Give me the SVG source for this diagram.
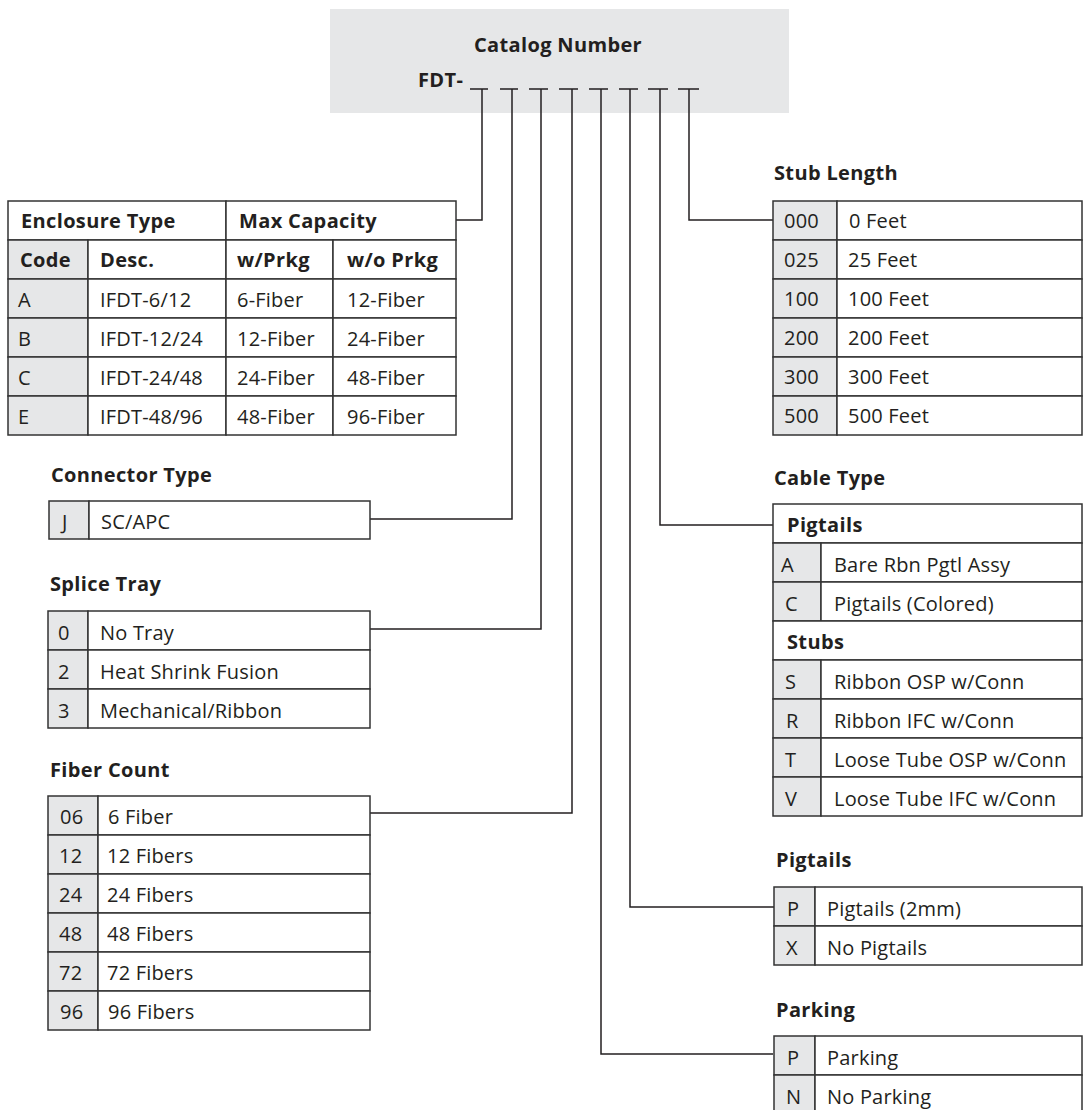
<svg xmlns="http://www.w3.org/2000/svg" width="1083" height="1110" viewBox="0 0 1083 1110">
<style>
.t{font-family:"Open Sans","Noto Sans","Liberation Sans",sans-serif;font-size:20px;letter-spacing:0.2px;fill:#231f20}
.b{font-weight:bold;letter-spacing:0.35px}
.c{fill:#fff;stroke:#333;stroke-width:1.5}
.s{fill:#e6e7e8;stroke:#333;stroke-width:1.5}
.ln{fill:none;stroke:#231f20;stroke-width:1.5}
</style>
<rect width="1083" height="1110" fill="#fff"/>
<g id="catalog">
<rect x="330" y="9" width="459" height="104" fill="#e6e7e8"/>
<text class="t b" x="558" y="52" text-anchor="middle">Catalog Number</text>
<text class="t b" x="418" y="87">FDT-</text>
<path class="ln" d="M470,89H488M500,89H518M529,89H548M559,89H578M589,89H608M619,89H638M648,89H668M678,89H699"/>
</g>
<g id="connectors">
<path class="ln" d="M482,89V220H456"/>
<path class="ln" d="M512,89V519H370"/>
<path class="ln" d="M541,89V629H370"/>
<path class="ln" d="M572,89V813H370"/>
<path class="ln" d="M601,89V1054H773"/>
<path class="ln" d="M630,89V907H774"/>
<path class="ln" d="M660,89V525H773"/>
<path class="ln" d="M689,89V220H773"/>
</g>
<g id="enclosure">
<rect class="c" x="8" y="201" width="218" height="39"/>
<rect class="c" x="226" y="201" width="230" height="39"/>
<rect class="s" x="8" y="240" width="80" height="39"/><rect class="c" x="88" y="240" width="138" height="39"/><rect class="c" x="226" y="240" width="107" height="39"/><rect class="c" x="333" y="240" width="123" height="39"/>
<rect class="s" x="8" y="279" width="80" height="39"/><rect class="c" x="88" y="279" width="138" height="39"/><rect class="c" x="226" y="279" width="107" height="39"/><rect class="c" x="333" y="279" width="123" height="39"/>
<rect class="s" x="8" y="318" width="80" height="39"/><rect class="c" x="88" y="318" width="138" height="39"/><rect class="c" x="226" y="318" width="107" height="39"/><rect class="c" x="333" y="318" width="123" height="39"/>
<rect class="s" x="8" y="357" width="80" height="39"/><rect class="c" x="88" y="357" width="138" height="39"/><rect class="c" x="226" y="357" width="107" height="39"/><rect class="c" x="333" y="357" width="123" height="39"/>
<rect class="s" x="8" y="396" width="80" height="39"/><rect class="c" x="88" y="396" width="138" height="39"/><rect class="c" x="226" y="396" width="107" height="39"/><rect class="c" x="333" y="396" width="123" height="39"/>
<text class="t b" x="21" y="228">Enclosure Type</text><text class="t b" x="239" y="228">Max Capacity</text>
<text class="t b" x="20" y="267">Code</text><text class="t b" x="100" y="267">Desc.</text><text class="t b" x="237" y="267">w/Prkg</text><text class="t b" x="347" y="267">w/o Prkg</text>
<text class="t" x="18" y="307">A</text><text class="t" x="100" y="307">IFDT-6/12</text><text class="t" x="237" y="307">6-Fiber</text><text class="t" x="347" y="307">12-Fiber</text>
<text class="t" x="18" y="346">B</text><text class="t" x="100" y="346">IFDT-12/24</text><text class="t" x="237" y="346">12-Fiber</text><text class="t" x="347" y="346">24-Fiber</text>
<text class="t" x="18" y="385">C</text><text class="t" x="100" y="385">IFDT-24/48</text><text class="t" x="237" y="385">24-Fiber</text><text class="t" x="347" y="385">48-Fiber</text>
<text class="t" x="18" y="424">E</text><text class="t" x="100" y="424">IFDT-48/96</text><text class="t" x="237" y="424">48-Fiber</text><text class="t" x="347" y="424">96-Fiber</text>
</g>
<g id="connector-type">
<text class="t b" x="51" y="482">Connector Type</text>
<rect class="s" x="49" y="501" width="40" height="38"/><rect class="c" x="89" y="501" width="281" height="38"/>
<text class="t" x="62" y="529">J</text><text class="t" x="101" y="529">SC/APC</text>
</g>
<g id="splice-tray">
<text class="t b" x="50" y="591">Splice Tray</text>
<rect class="s" x="48" y="611" width="40" height="39"/><rect class="c" x="88" y="611" width="282" height="39"/>
<rect class="s" x="48" y="650" width="40" height="39"/><rect class="c" x="88" y="650" width="282" height="39"/>
<rect class="s" x="48" y="689" width="40" height="39"/><rect class="c" x="88" y="689" width="282" height="39"/>
<text class="t" x="58" y="640">0</text><text class="t" x="100" y="640">No Tray</text>
<text class="t" x="58" y="679">2</text><text class="t" x="100" y="679">Heat Shrink Fusion</text>
<text class="t" x="58" y="718">3</text><text class="t" x="100" y="718">Mechanical/Ribbon</text>
</g>
<g id="fiber-count">
<text class="t b" x="50" y="777">Fiber Count</text>
<rect class="s" x="48" y="796" width="50" height="39"/><rect class="c" x="98" y="796" width="272" height="39"/>
<rect class="s" x="48" y="835" width="50" height="39"/><rect class="c" x="98" y="835" width="272" height="39"/>
<rect class="s" x="48" y="874" width="50" height="39"/><rect class="c" x="98" y="874" width="272" height="39"/>
<rect class="s" x="48" y="913" width="50" height="39"/><rect class="c" x="98" y="913" width="272" height="39"/>
<rect class="s" x="48" y="952" width="50" height="39"/><rect class="c" x="98" y="952" width="272" height="39"/>
<rect class="s" x="48" y="991" width="50" height="39"/><rect class="c" x="98" y="991" width="272" height="39"/>
<text class="t" x="60" y="824">06</text><text class="t" x="108" y="824">6 Fiber</text>
<text class="t" x="59" y="863">12</text><text class="t" x="107" y="863">12 Fibers</text>
<text class="t" x="59" y="902">24</text><text class="t" x="107" y="902">24 Fibers</text>
<text class="t" x="59" y="941">48</text><text class="t" x="107" y="941">48 Fibers</text>
<text class="t" x="59" y="980">72</text><text class="t" x="107" y="980">72 Fibers</text>
<text class="t" x="60" y="1019">96</text><text class="t" x="108" y="1019">96 Fibers</text>
</g>
<g id="stub-length">
<text class="t b" x="774" y="180">Stub Length</text>
<rect class="s" x="773" y="201" width="64" height="39"/><rect class="c" x="837" y="201" width="245" height="39"/>
<rect class="s" x="773" y="240" width="64" height="39"/><rect class="c" x="837" y="240" width="245" height="39"/>
<rect class="s" x="773" y="279" width="64" height="39"/><rect class="c" x="837" y="279" width="245" height="39"/>
<rect class="s" x="773" y="318" width="64" height="39"/><rect class="c" x="837" y="318" width="245" height="39"/>
<rect class="s" x="773" y="357" width="64" height="39"/><rect class="c" x="837" y="357" width="245" height="39"/>
<rect class="s" x="773" y="396" width="64" height="39"/><rect class="c" x="837" y="396" width="245" height="39"/>
<text class="t" x="784" y="228">000</text><text class="t" x="849" y="228">0 Feet</text>
<text class="t" x="784" y="267">025</text><text class="t" x="848" y="267">25 Feet</text>
<text class="t" x="784" y="306">100</text><text class="t" x="848" y="306">100 Feet</text>
<text class="t" x="784" y="345">200</text><text class="t" x="848" y="345">200 Feet</text>
<text class="t" x="784" y="384">300</text><text class="t" x="848" y="384">300 Feet</text>
<text class="t" x="784" y="423">500</text><text class="t" x="848" y="423">500 Feet</text>
</g>
<g id="cable-type">
<text class="t b" x="774" y="485">Cable Type</text>
<rect class="c" x="773" y="504" width="309" height="39"/>
<rect class="s" x="773" y="543" width="48" height="39"/><rect class="c" x="821" y="543" width="261" height="39"/>
<rect class="s" x="773" y="582" width="48" height="39"/><rect class="c" x="821" y="582" width="261" height="39"/>
<rect class="c" x="773" y="621" width="309" height="39"/>
<rect class="s" x="773" y="660" width="48" height="39"/><rect class="c" x="821" y="660" width="261" height="39"/>
<rect class="s" x="773" y="699" width="48" height="39"/><rect class="c" x="821" y="699" width="261" height="39"/>
<rect class="s" x="773" y="738" width="48" height="39"/><rect class="c" x="821" y="738" width="261" height="39"/>
<rect class="s" x="773" y="777" width="48" height="39"/><rect class="c" x="821" y="777" width="261" height="39"/>
<text class="t b" x="787" y="532">Pigtails</text>
<text class="t" x="781" y="572">A</text><text class="t" x="834" y="572">Bare Rbn Pgtl Assy</text>
<text class="t" x="785" y="611">C</text><text class="t" x="834" y="611">Pigtails (Colored)</text>
<text class="t b" x="787" y="649">Stubs</text>
<text class="t" x="785" y="689">S</text><text class="t" x="834" y="689">Ribbon OSP w/Conn</text>
<text class="t" x="786" y="728">R</text><text class="t" x="834" y="728">Ribbon IFC w/Conn</text>
<text class="t" x="785" y="767">T</text><text class="t" x="834" y="767">Loose Tube OSP w/Conn</text>
<text class="t" x="785" y="806">V</text><text class="t" x="834" y="806">Loose Tube IFC w/Conn</text>
</g>
<g id="pigtails">
<text class="t b" x="776" y="867">Pigtails</text>
<rect class="s" x="774" y="887" width="41" height="39"/><rect class="c" x="815" y="887" width="267" height="39"/>
<rect class="s" x="774" y="926" width="41" height="39"/><rect class="c" x="815" y="926" width="267" height="39"/>
<text class="t" x="787" y="916">P</text><text class="t" x="827" y="916">Pigtails (2mm)</text>
<text class="t" x="786" y="955">X</text><text class="t" x="827" y="955">No Pigtails</text>
</g>
<g id="parking">
<text class="t b" x="776" y="1017">Parking</text>
<rect class="s" x="774" y="1036" width="41" height="39"/><rect class="c" x="815" y="1036" width="267" height="39"/>
<rect class="s" x="774" y="1075" width="41" height="39"/><rect class="c" x="815" y="1075" width="267" height="39"/>
<text class="t" x="787" y="1065">P</text><text class="t" x="827" y="1065">Parking</text>
<text class="t" x="786" y="1104">N</text><text class="t" x="827" y="1104">No Parking</text>
</g>
</svg>
